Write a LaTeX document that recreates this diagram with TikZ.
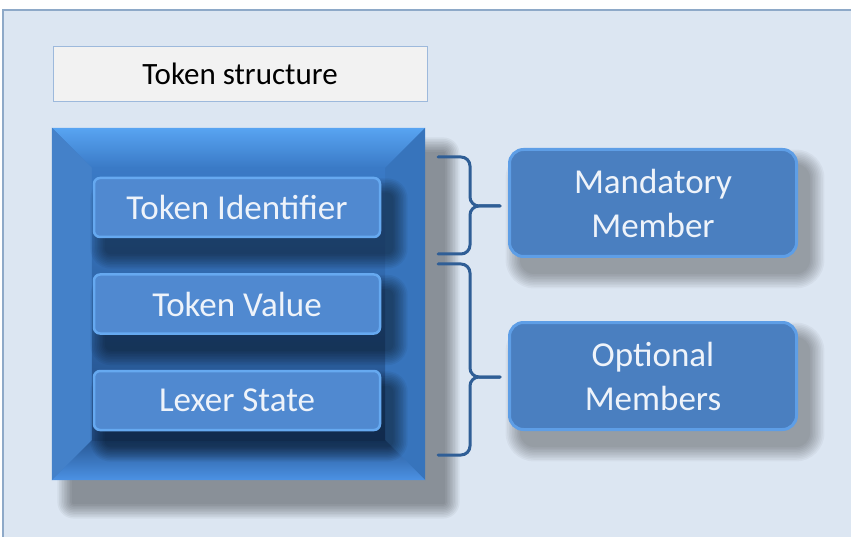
\documentclass[tikz,border=0pt]{standalone}
\usepackage{fontspec}
\setmainfont{Carlito}
\usepackage{tikz}
\usetikzlibrary{positioning}

\definecolor{bgblue}{HTML}{DCE6F2}
\definecolor{bgline}{HTML}{8EA9C8}
\definecolor{titlefill}{HTML}{F2F2F2}
\definecolor{titleline}{HTML}{9DB9DC}
\definecolor{bluemid}{HTML}{3A7AC6}
\definecolor{bluelight}{HTML}{4C92E4}
\definecolor{bluetop}{HTML}{58A4F2}
\definecolor{bluedark}{HTML}{234F88}
\definecolor{bracecol}{HTML}{2F5E96}
\definecolor{boxrim}{HTML}{66A9F0}
\definecolor{boxface}{HTML}{5089D0}
\definecolor{memrim}{HTML}{5E9EE6}
\definecolor{memface}{HTML}{4A7FC0}
\definecolor{textwhite}{HTML}{EEF3FA}

\pgfdeclarelayer{panel}
\pgfdeclarelayer{lowshadow}
\pgfdeclarelayer{block}
\pgfdeclarelayer{highshadow}
\pgfsetlayers{panel,lowshadow,block,highshadow,main}

% soft shadow: node, x offset, y offset, corner radius, opacity of one step
\newcommand{\softshadow}[5]{%
	\foreach \k in {0,...,9}{
		\pgfmathsetmacro\e{\k*1.6}
		\pgfmathsetmacro\r{#4+\e}
		\fill[black, opacity=#5, rounded corners=\r pt]
			([shift={({#2-\e},{#3-\e})}]#1.north west) rectangle ([shift={({#2+\e},{#3+\e})}]#1.south east);
	}}

\begin{document}
\begin{tikzpicture}[
	x = 1pt, y = -1pt, % pixel like units
	thick, % line style
	T/.style={rectangle, draw=titleline, fill=titlefill, minimum width=374pt, minimum height=55pt, font=\fontsize{31}{35}\selectfont},
	S/.style={rectangle, fill=bluemid, minimum width=373pt, minimum height=352pt, inner sep=0pt},
	F/.style={rectangle, rounded corners=6pt, fill=boxface, draw=boxrim, line width=2.5pt,
		minimum width=286pt, minimum height=59pt, text=textwhite, font=\fontsize{35}{40}\selectfont},
	M/.style={rectangle, rounded corners=14pt, fill=memface, draw=memrim, line width=3pt,
		minimum width=287pt, minimum height=107pt, align=center, text=textwhite, font=\fontsize{35}{44}\selectfont},
	B/.style={draw=bracecol, line width=3pt, rounded corners=9pt, line cap=round},
	]

	\useasboundingbox (0,0) rectangle (851,537);
	% Background panel
	\begin{pgfonlayer}{panel}
		\fill[bgblue] (3,10) rectangle (851,537);
		\draw[bgline, line width=2pt] (3,537) -- (3,10) -- (851,10);
	\end{pgfonlayer}

	% Title and the structure block
	\node[T] (title) at (240,73.5) {Token structure};
	\begin{pgfonlayer}{block}
		\node[S] (struct) at (238.5,304) {};
		% bevel of the structure block
		\shade[top color=bluetop, bottom color=bluemid] (struct.north west) -- (struct.north east) -- ([shift={(-40pt,-40pt)}]struct.north east) -- ([shift={(40pt,-40pt)}]struct.north west) -- cycle;
		\fill[bluemid!95!white] (struct.north west) -- ([shift={(40pt,-40pt)}]struct.north west) -- ([shift={(40pt,40pt)}]struct.south west) -- (struct.south west) -- cycle;
		\fill[bluemid!95!black] (struct.north east) -- ([shift={(-40pt,-40pt)}]struct.north east) -- ([shift={(-40pt,40pt)}]struct.south east) -- (struct.south east) -- cycle;
		\shade[top color=bluedark!80!bluemid, bottom color=bluelight] (struct.south west) -- ([shift={(40pt,40pt)}]struct.south west) -- ([shift={(-40pt,40pt)}]struct.south east) -- (struct.south east) -- cycle;
		\shade[top color=bluemid, bottom color=bluedark] ([shift={(40pt,-40pt)}]struct.north west) rectangle ([shift={(-40pt,40pt)}]struct.south east);
	\end{pgfonlayer}

	% Members inside the block
	\node[F] (tid) at (237,207.5) {Token Identifier};
	\node[F] (tval) [below = 35pt of tid] {Token Value};
	\node[F] (lex) [below = 35pt of tval] {Lexer State};

	% Member kinds
	\node[M] (mand) at (653,203) {Mandatory\\Member};
	\node[M] (opt) [below = 63pt of mand] {Optional\\Members};

	% Shadows
	\begin{pgfonlayer}{lowshadow}
		\softshadow{struct}{20}{24}{2}{0.045}
		\softshadow{mand}{12}{16}{14}{0.035}
		\softshadow{opt}{12}{16}{14}{0.035}
	\end{pgfonlayer}
	\begin{pgfonlayer}{highshadow}
		\foreach \n in {tid,tval,lex}{\softshadow{\n}{12}{16}{6}{0.05}}
	\end{pgfonlayer}

	% Braces
	\coordinate (b1) at (500,206);
	\coordinate (b2) at (500,377);
	\draw[B] (438,157) -| (470,206) -- (b1);
	\draw[B] (438,254) -| (470,206) -- (b1);
	\draw[B] (438,264) -| (470,377) -- (b2);
	\draw[B] (438,455) -| (470,377) -- (b2);

\end{tikzpicture}
\end{document}
